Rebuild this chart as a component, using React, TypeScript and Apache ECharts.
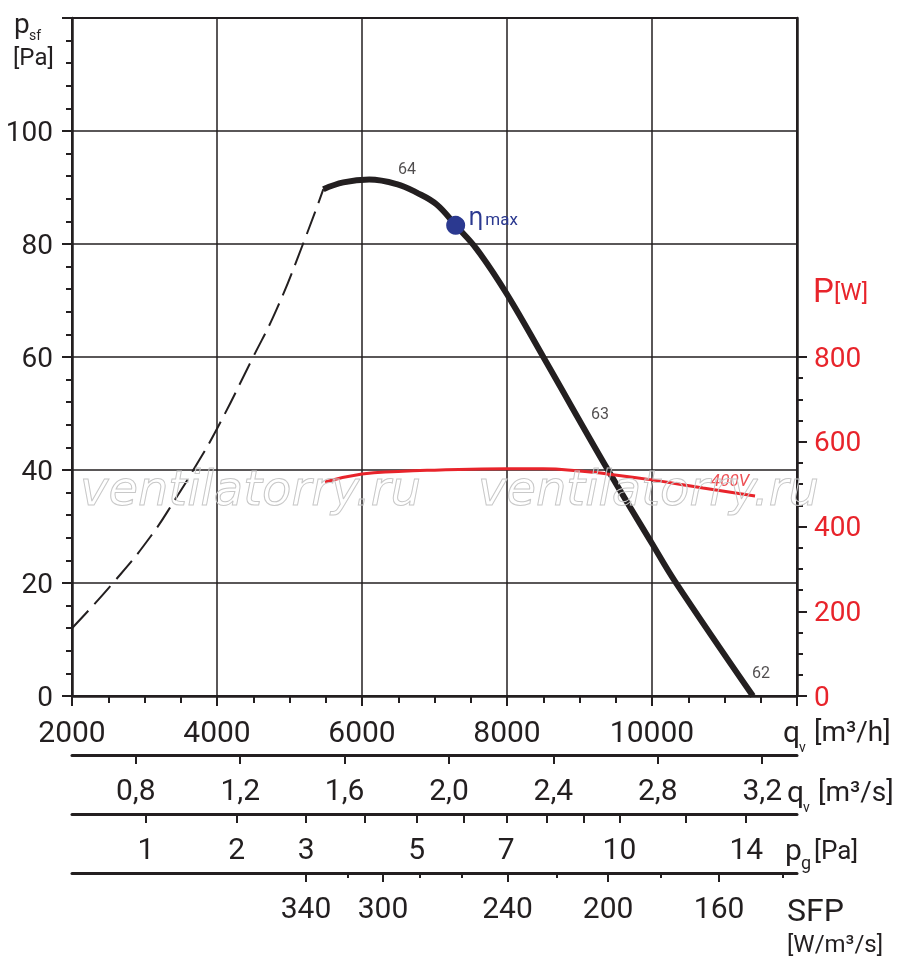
import React, { useEffect, useRef } from 'react';
import * as echarts from 'echarts';

// fan curve p_sf [Pa] vs q_v [m3/h], dashed (unstable) part and solid part
const dashedFlow = [2000, 2566, 3076, 3448, 3669, 4000, 4483, 4828, 5186, 5467];
const dashedPressure = [12.0, 20.0, 28.1, 35.3, 39.9, 47.3, 59.6, 68.6, 80.0, 89.7];
const solidFlow = [5467, 5743, 6100, 6479, 6755, 7030, 7292, 7582, 8000, 8501, 9397, 10000, 10317, 11393];
const solidPressure = [89.7, 90.9, 91.4, 90.6, 89.1, 87.0, 83.3, 79.1, 71.1, 60.0, 39.9, 27.0, 20.3, 0];

// power input P [W]
const powerFlow = [5490, 6000, 6500, 7000, 8000, 8500, 9000, 9383, 10000, 10703, 11421];
const powerW = [505, 524, 530, 533, 536, 536, 531, 524, 510, 491, 472];

const etaMaxPoint = [7292, 83.3];
const curveTags = ['64', '63', '62'];
const curveTagFlow = [6621, 9283, 11503];
const curveTagPressure = [93.3, 50.0, 4.2];
const voltageTag = { text: '400V', flow: 11076, power: 509 };

// secondary scales
const flowM3sTicks = [0.8, 1.2, 1.6, 2.0, 2.4, 2.8, 3.2];
const pgTicks = [1, 2, 3, 4, 5, 6, 7, 8, 9, 10, 12, 14];
const pgLabels = [1, 2, 3, 5, 7, 10, 14];
const PG_FLOW_AT_1PA = 3020;
const sfpValues = [340, 320, 300, 280, 260, 240, 220, 200, 180, 160, 140];
const sfpAtFlow = [5228, 5807, 6290, 6800, 7379, 8007, 8692, 9395, 10124, 10926, 11805];
const sfpLabels = [340, 300, 240, 200, 160];
const powerLabels = [0, 200, 400, 600, 800];
const powerMinorTicks = [50, 100, 150, 250, 300, 350, 450, 500, 550, 650, 700, 750];

const INK = '#231f20';
const RED = '#e8242b';
const BLUE = '#2b3990';
const FONT = 'Roboto';

const pgToFlow = (p: number) => PG_FLOW_AT_1PA * Math.sqrt(p);
const sfpFlow = (s: number) => sfpAtFlow[sfpValues.indexOf(s)];

const txt = (text: string, x: number, y: number, fontSize: number, extra: any = {}) => ({
  type: 'text',
  x,
  y,
  z: 50,
  style: { text, fontSize, fontFamily: FONT, fill: INK, verticalAlign: 'middle', align: 'left', ...extra },
});

const App: React.FC = () => {
  const chartRef = useRef<HTMLDivElement>(null);

  useEffect(() => {
    if (!chartRef.current) return;
    const chart = echarts.init(chartRef.current, undefined, { renderer: 'svg' });

    const bottomAxis = (offset: number, extra: any) => ({
      type: 'value',
      position: 'bottom',
      gridIndex: 0,
      offset,
      min: 2000,
      max: 12000,
      axisLine: { show: true, onZero: false, lineStyle: { color: INK, width: 3 } },
      axisTick: { show: true, inside: false, length: 9, lineStyle: { color: INK, width: 2 } },
      axisLabel: { show: true, color: INK, fontSize: 30, fontFamily: FONT, margin: 19 },
      splitLine: { show: false },
      minorTick: { show: false },
      ...extra,
    });

    const option = {
      animation: false,
      grid: { left: 72, right: 103, top: 18, bottom: 274, show: true, borderColor: INK, borderWidth: 2 },
      xAxis: [
        {
          type: 'value',
          position: 'bottom',
          min: 2000,
          max: 12000,
          interval: 2000,
          axisLine: { show: true, onZero: false, lineStyle: { color: INK, width: 2.5 } },
          axisTick: { show: true, length: 10, lineStyle: { color: INK, width: 2 } },
          minorTick: { show: true, splitNumber: 4, length: 7, lineStyle: { color: INK, width: 2 } },
          splitLine: { show: true, lineStyle: { color: INK, width: 1.5 } },
          axisLabel: {
            color: INK, fontSize: 30, fontFamily: FONT, margin: 20,
            formatter: (v: number) => (v === 12000 ? '' : String(v)),
          },
        },
        bottomAxis(59, {
          min: 2000 / 3600,
          max: 12000 / 3600,
          axisTick: { show: true, length: 9, customValues: flowM3sTicks, lineStyle: { color: INK, width: 2 } },
          axisLabel: {
            color: INK, fontSize: 30, fontFamily: FONT, margin: 19, customValues: flowM3sTicks,
            formatter: (v: number) => v.toFixed(1).replace('.', ','),
          },
        }),
        bottomAxis(118, {
          axisTick: { show: true, length: 9, customValues: pgTicks.map(pgToFlow), lineStyle: { color: INK, width: 2 } },
          axisLabel: {
            color: INK, fontSize: 30, fontFamily: FONT, margin: 19, customValues: pgLabels.map(pgToFlow),
            formatter: (v: number) => String(Math.round((v / PG_FLOW_AT_1PA) ** 2)),
          },
        }),
        bottomAxis(177, {
          axisTick: { show: true, length: 9, customValues: sfpLabels.map(sfpFlow), lineStyle: { color: INK, width: 2 } },
          axisLabel: {
            color: INK, fontSize: 30, fontFamily: FONT, margin: 19, customValues: sfpLabels.map(sfpFlow),
            formatter: (v: number) => String(sfpValues[sfpAtFlow.indexOf(v)]),
          },
        }),
        bottomAxis(177, {
          axisLine: { show: false, onZero: false },
          axisTick: {
            show: true, length: 5,
            customValues: sfpValues.filter((s) => !sfpLabels.includes(s)).map(sfpFlow),
            lineStyle: { color: INK, width: 2 },
          },
          axisLabel: { show: false },
        }),
      ],
      yAxis: [
        {
          type: 'value',
          position: 'left',
          min: 0,
          max: 120,
          interval: 20,
          axisLine: { show: true, onZero: false, lineStyle: { color: INK, width: 2.5 } },
          axisTick: { show: true, length: 10, lineStyle: { color: INK, width: 2 } },
          minorTick: { show: true, splitNumber: 5, length: 6, lineStyle: { color: INK, width: 2 } },
          splitLine: { show: true, lineStyle: { color: INK, width: 1.5 } },
          axisLabel: {
            color: INK, fontSize: 28, fontFamily: FONT, margin: 19,
            formatter: (v: number) => (v === 120 ? '' : String(v)),
          },
        },
        {
          type: 'value',
          position: 'right',
          min: 0,
          max: 1600,
          axisLine: { show: true, onZero: false, lineStyle: { color: INK, width: 2.5 } },
          axisTick: { show: true, length: 10, customValues: powerLabels, lineStyle: { color: INK, width: 2 } },
          splitLine: { show: false },
          axisLabel: { color: RED, fontSize: 28, fontFamily: FONT, margin: 17, customValues: powerLabels },
        },
        {
          type: 'value',
          position: 'right',
          min: 0,
          max: 1600,
          axisLine: { show: false, onZero: false },
          axisTick: { show: true, length: 6, customValues: powerMinorTicks, lineStyle: { color: INK, width: 2 } },
          splitLine: { show: false },
          axisLabel: { show: false },
        },
      ],
      series: [
        {
          type: 'line',
          data: dashedFlow.map((q, i) => [q, dashedPressure[i]]),
          smooth: 0.5,
          symbol: 'none',
          lineStyle: { color: INK, width: 2, type: [24, 9] },
          z: 5,
        },
        {
          type: 'line',
          data: solidFlow.map((q, i) => [q, solidPressure[i]]),
          smooth: 0.4,
          symbol: 'none',
          lineStyle: { color: INK, width: 6, cap: 'butt' },
          z: 6,
        },
        {
          type: 'line',
          yAxisIndex: 1,
          data: powerFlow.map((q, i) => [q, powerW[i]]),
          smooth: 0.5,
          symbol: 'none',
          lineStyle: { color: RED, width: 3 },
          z: 7,
        },
        {
          type: 'scatter',
          data: [etaMaxPoint],
          symbolSize: 19,
          itemStyle: { color: BLUE, opacity: 1 },
          z: 8,
          label: {
            show: true,
            position: 'right',
            distance: 3,
            offset: [0, -8],
            formatter: '{a|η}{b|max}',
            rich: {
              a: { fontSize: 24, color: BLUE, fontFamily: 'DejaVu Sans' },
              b: { fontSize: 17, color: BLUE, fontFamily: FONT, padding: [4, 0, 0, 2] },
            },
          },
        },
        {
          type: 'scatter',
          symbolSize: 0,
          data: curveTags.map((t, i) => ({ name: t, value: [curveTagFlow[i], curveTagPressure[i]] })),
          label: { show: true, position: 'inside', formatter: '{b}', color: INK, fontSize: 16, fontFamily: FONT },
          z: 9,
        },
        {
          type: 'scatter',
          yAxisIndex: 1,
          symbolSize: 0,
          data: [{ name: voltageTag.text, value: [voltageTag.flow, voltageTag.power] }],
          label: {
            show: true, position: 'inside', formatter: '{b}', color: RED, fontSize: 17,
            fontFamily: FONT, fontStyle: 'italic',
          },
          z: 9,
        },
      ],
      graphic: [
        ...[80, 478].map((x) => ({
          type: 'text',
          x,
          y: 488,
          z: 40,
          silent: true,
          style: {
            text: 'ventilatorry.ru', fontSize: 48, fontFamily: 'DejaVu Sans', fontStyle: 'italic',
            fill: 'rgba(255,255,255,0)', stroke: '#c8c8c8', lineWidth: 1, verticalAlign: 'middle', align: 'left',
          },
        })),
        txt('p', 14, 23, 28),
        txt('sf', 29, 35, 14),
        txt('[Pa]', 13, 57, 24),
        txt('P', 813, 290, 33, { fill: RED }),
        txt('[W]', 834, 292, 24, { fill: RED }),
        txt('q', 783, 731, 30),
        txt('v', 799, 747, 14),
        txt('[m³/h]', 814, 731, 28),
        txt('q', 787, 791, 30),
        txt('v', 803, 807, 14),
        txt('[m³/s]', 818, 791, 28),
        txt('p', 785, 849, 30),
        txt('g', 801, 862, 18),
        txt('[Pa]', 814, 850, 26),
        txt('SFP', 787, 910, 32),
        txt('[W/m³/s]', 787, 944, 24),
      ],
    };

    chart.setOption(option as any);
    return () => {
      chart.dispose();
    };
  }, []);

  return <div ref={chartRef} style={{ position: 'fixed', left: 0, top: 0, width: 900, height: 970 }} />;
};

export default App;
